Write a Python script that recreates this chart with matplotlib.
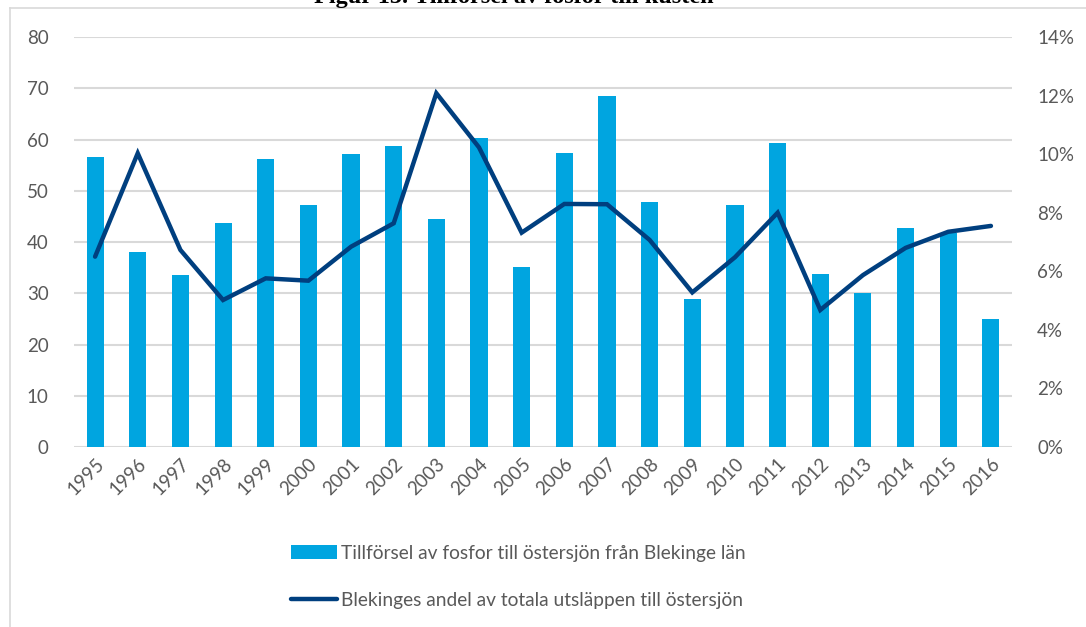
import matplotlib.pyplot as plt
from matplotlib.lines import Line2D
from matplotlib.ticker import FuncFormatter

years = [str(y) for y in range(1995, 2017)]
tillforsel = [56.5, 38.1, 33.6, 43.8, 56.1, 47.3, 57.2, 58.8, 44.4, 60.3, 35.2,
              57.3, 68.5, 47.9, 28.8, 47.3, 59.3, 33.8, 30.0, 42.7, 41.8, 25.0]
andel = [6.50, 10.03, 6.73, 5.02, 5.76, 5.68, 6.84, 7.64, 12.08, 10.23, 7.32,
         8.30, 8.29, 7.07, 5.28, 6.48, 8.00, 4.68, 5.87, 6.80, 7.35, 7.55]

bar_label = "Tillförsel av fosfor till östersjön från Blekinge län"
line_label = "Blekinges andel av totala utsläppen till östersjön"
title = "Figur 15. Tillförsel av fosfor till kusten"

plt.rcParams['font.family'] = ['Lato', 'DejaVu Sans']
txt = "#595959"
bar_col = "#00A5E0"
line_col = "#003F7F"

fig = plt.figure(figsize=(10.86, 6.27), dpi=100)
ax1 = fig.add_axes([0.0679, 0.287, 0.8642, 0.654])
x = range(len(years))
bars = ax1.bar(x, tillforsel, width=0.4, color=bar_col, label=bar_label, zorder=2)
ax1.set_ylim(0, 80)
ax1.set_yticks(range(0, 81, 10))
ax1.set_xlim(-0.5, len(years) - 0.5)
ax1.set_xticks(list(x))
ax1.set_xticklabels(years, rotation=45, ha="right", rotation_mode="anchor")
ax1.grid(axis="y", color="#d9d9d9", linewidth=1.5, zorder=0)
ax1.set_axisbelow(True)
ax1.tick_params(length=0, labelsize=13.5, colors=txt)
ax1.tick_params(axis="y", pad=18)
ax1.tick_params(axis="x", pad=6)
for s in ax1.spines.values():
    s.set_visible(False)

ax2 = ax1.twinx()
ln, = ax2.plot(x, andel, color=line_col, linewidth=3.2, solid_capstyle="round",
               solid_joinstyle="miter", label=line_label)
ax2.set_ylim(0, 14)
ax2.set_yticks(range(0, 15, 2))
ax2.yaxis.set_major_formatter(FuncFormatter(lambda v, p: f"{v:.0f}%"))
ax2.tick_params(length=0, labelsize=13.5, colors=txt, pad=18)
for s in ax2.spines.values():
    s.set_visible(False)

fig.legend([bars, ln], [bar_label, line_label], loc="center",
           bbox_to_anchor=(0.477, 0.080), frameon=False, fontsize=13.8,
           labelcolor=txt, handlelength=2.4, handleheight=0.7,
           handletextpad=0.2, labelspacing=1.6)

# cut-off caption and frame of the embedded chart
fig.text(0.473, 1.004, title, fontsize=17.5, fontweight="bold",
         family="Liberation Serif", ha="center", va="center")
fig.add_artist(Line2D([10 / 1086, 10 / 1086], [0, 1 - 8 / 627],
                      transform=fig.transFigure, color="#d9d9d9", linewidth=1.2))
fig.add_artist(Line2D([10 / 1086, 1], [1 - 8 / 627, 1 - 8 / 627],
                      transform=fig.transFigure, color="#d9d9d9", linewidth=1.2))

fig.savefig("out.png", dpi=100)
